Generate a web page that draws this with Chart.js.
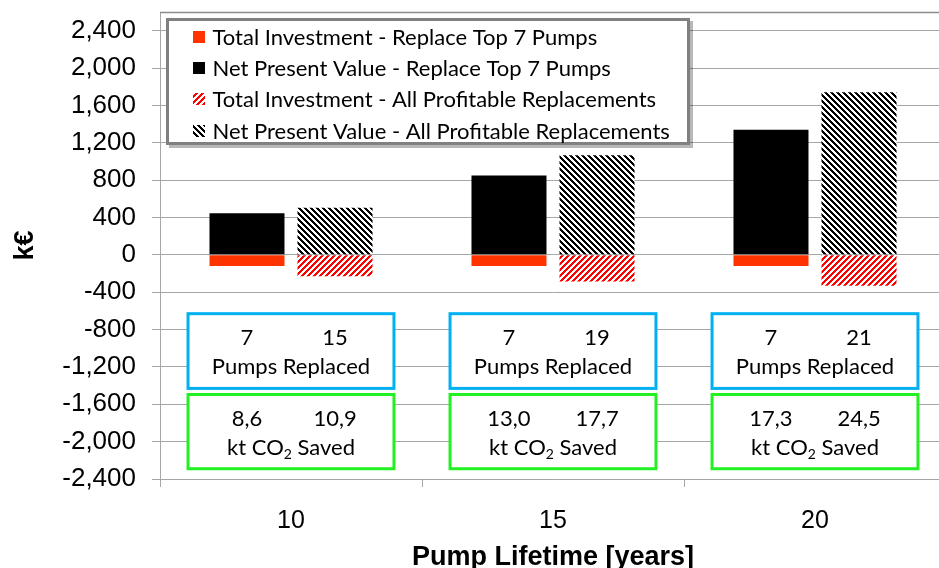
<!DOCTYPE html>
<html><head><meta charset="utf-8">
<script src="https://cdn.jsdelivr.net/npm/chart.js@4"></script>
<style>html,body{margin:0;padding:0;overflow:hidden;background:#fff;}#wrap{width:946px;height:568px;}</style>
</head><body><div id="wrap"><canvas id="c" width="946" height="568"></canvas></div>
<script>
// ---- data ----
const categories = ['10', '15', '20'];
const investTop7 = [-120, -120, -120];
const npvTop7 = [445, 850, 1340];
const investAll = [-230, -285, -330];
const npvAll = [505, 1065, 1740];
const pumpsTop7 = [7, 7, 7];
const pumpsAll = [15, 19, 21];
const co2Top7 = ['8,6', '13,0', '17,3'];
const co2All = ['10,9', '17,7', '24,5'];
const yTickValues = [-2400, -2000, -1600, -1200, -800, -400, 0, 400, 800, 1200, 1600, 2000, 2400];
const seriesLabels = [
  'Total Investment - Replace Top 7 Pumps',
  'Net Present Value - Replace Top 7 Pumps',
  'Total Investment - All Profitable Replacements',
  'Net Present Value - All Profitable Replacements'
];

const canvas = document.getElementById('c');
const ctx0 = canvas.getContext('2d');
function hatch(color, up) {
  const n = 6;
  const c = document.createElement('canvas');
  c.width = n; c.height = n;
  const g = c.getContext('2d');
  g.fillStyle = '#fff'; g.fillRect(0, 0, n, n);
  g.fillStyle = color;
  for (let y = 0; y < n; y++) for (let x = 0; x < n; x++) {
    const v = up ? (x + y) % n : ((x - y) % n + n) % n;
    if (v < n / 2) g.fillRect(x, y, 1, 1);
  }
  return ctx0.createPattern(c, 'repeat');
}
const redHatch = hatch('#ff0000', true);
const blackHatch = hatch('#000000', false);
const colors = ['#ff3300', '#000000', redHatch, blackHatch];

const TXT = 'Lato, "Open Sans", sans-serif';
const AX = '"Liberation Sans", Arial, sans-serif';

const overlay = {
  id: 'overlay',
  afterDraw(chart) {
    const ctx = chart.ctx, ca = chart.chartArea;
    const xs = chart.scales.x, ys = chart.scales.y;
    ctx.save();
    // plot area top border
    ctx.strokeStyle = '#8c8c8c'; ctx.lineWidth = 1.5;
    ctx.beginPath(); ctx.moveTo(ca.left, ca.top + 0.5); ctx.lineTo(ca.right, ca.top + 0.5); ctx.stroke();

    // legend
    const lx = 166, ly = 18, lw = 524, lh = 127;
    ctx.fillStyle = 'rgba(0,0,0,0.28)';
    ctx.fillRect(lx + 3, ly + 3, lw, lh);
    ctx.fillStyle = '#fff'; ctx.fillRect(lx, ly, lw, lh);
    ctx.strokeStyle = '#808080'; ctx.lineWidth = 3;
    ctx.strokeRect(lx + 1.5, ly + 1.5, lw - 3, lh - 3);
    ctx.font = '22px ' + TXT; ctx.textBaseline = 'middle'; ctx.textAlign = 'left';
    chart.data.datasets.forEach((ds, i) => {
      const cy = 36.5 + i * 31.4;
      ctx.fillStyle = ds.backgroundColor;
      ctx.fillRect(193, Math.round(cy - 6), 12, 12);
      ctx.fillStyle = '#000';
      ctx.fillText(ds.label, 212.5, cy + 1);
    });

    // annotation boxes
    const catW = (ca.right - ca.left) / categories.length;
    const half = catW * 0.393;
    const slot = catW * 0.672 / 2;
    categories.forEach((c, i) => {
      const cx = xs.getPixelForValue(i);
      const bTop = ys.getPixelForValue(-630), bBot = ys.getPixelForValue(-1430);
      const gTop = ys.getPixelForValue(-1495), gBot = ys.getPixelForValue(-2290);
      ctx.fillStyle = '#fff';
      ctx.fillRect(cx - half, bTop, 2 * half, bBot - bTop);
      ctx.fillRect(cx - half, gTop, 2 * half, gBot - gTop);
      ctx.lineWidth = 3;
      ctx.strokeStyle = '#00b0f0';
      ctx.strokeRect(cx - half, bTop, 2 * half, bBot - bTop);
      ctx.strokeStyle = '#22f022';
      ctx.strokeRect(cx - half, gTop, 2 * half, gBot - gTop);
      ctx.fillStyle = '#000'; ctx.textAlign = 'center'; ctx.textBaseline = 'middle';
      ctx.font = '22px ' + TXT;
      ctx.fillText(String(pumpsTop7[i]), cx - slot / 2, bTop + 24);
      ctx.fillText(String(pumpsAll[i]), cx + slot / 2, bTop + 24);
      ctx.fillText('Pumps Replaced', cx, bTop + 53);
      ctx.fillText(co2Top7[i], cx - slot / 2, gTop + 24);
      ctx.fillText(co2All[i], cx + slot / 2, gTop + 24);
      // kt CO2 Saved with subscript
      const a = 'kt CO', b = '2', d = ' Saved';
      ctx.font = '22px ' + TXT; const wa = ctx.measureText(a).width, wd = ctx.measureText(d).width;
      ctx.font = '14px ' + TXT; const wb = ctx.measureText(b).width;
      let x0 = cx - (wa + wb + wd) / 2;
      ctx.textAlign = 'left';
      ctx.font = '22px ' + TXT; ctx.fillText(a, x0, gTop + 53);
      ctx.font = '14px ' + TXT; ctx.fillText(b, x0 + wa, gTop + 60);
      ctx.font = '22px ' + TXT; ctx.fillText(d, x0 + wa + wb, gTop + 53);
    });
    ctx.restore();
  }
};

const mk = (i, data, stack) => ({
  label: seriesLabels[i], data, stack,
  backgroundColor: colors[i], borderWidth: 0,
  categoryPercentage: 0.672, barPercentage: 0.852
});

new Chart(canvas, {
  type: 'bar',
  data: {
    labels: categories,
    datasets: [mk(0, investTop7, 'top7'), mk(1, npvTop7, 'top7'), mk(2, investAll, 'all'), mk(3, npvAll, 'all')]
  },
  options: {
    responsive: false, animation: false, devicePixelRatio: 1,
    layout: { padding: { top: 12, left: 0, right: 0, bottom: 0 } },
    plugins: { legend: { display: false }, tooltip: { enabled: false } },
    scales: {
      x: {
        stacked: true,
        grid: { offset: true, drawOnChartArea: false, tickLength: 8, color: '#a6a6a6' },
        border: { color: '#a6a6a6' },
        ticks: { font: { family: AX, size: 25 }, color: '#000', padding: 19 },
        title: { display: true, text: 'Pump Lifetime [years]', color: '#000', padding: 0,
                 font: { family: AX, size: 27, weight: 'bold', lineHeight: 0.8 } },
        afterFit(s) { s.height = 89; s.paddingLeft = 0; s.paddingRight = 0; }
      },
      y: {
        stacked: true, min: -2400, max: 2600,
        afterBuildTicks(s) { s.ticks = yTickValues.map(v => ({ value: v })); },
        grid: { color: '#a6a6a6', tickLength: 8 },
        border: { color: '#a6a6a6' },
        ticks: { font: { family: AX, size: 26 }, color: '#000', padding: 16,
                 callback: v => Number(v).toLocaleString('en-US') },
        title: { display: true, text: 'k€', color: '#000', padding: { top: 9, bottom: 0 },
                 font: { family: AX, size: 27, weight: 'bold' } },
        afterFit(s) { s.width = 160; s.paddingTop = 0; s.paddingBottom = 0; }
      }
    }
  },
  plugins: [overlay]
});
</script></body></html>
